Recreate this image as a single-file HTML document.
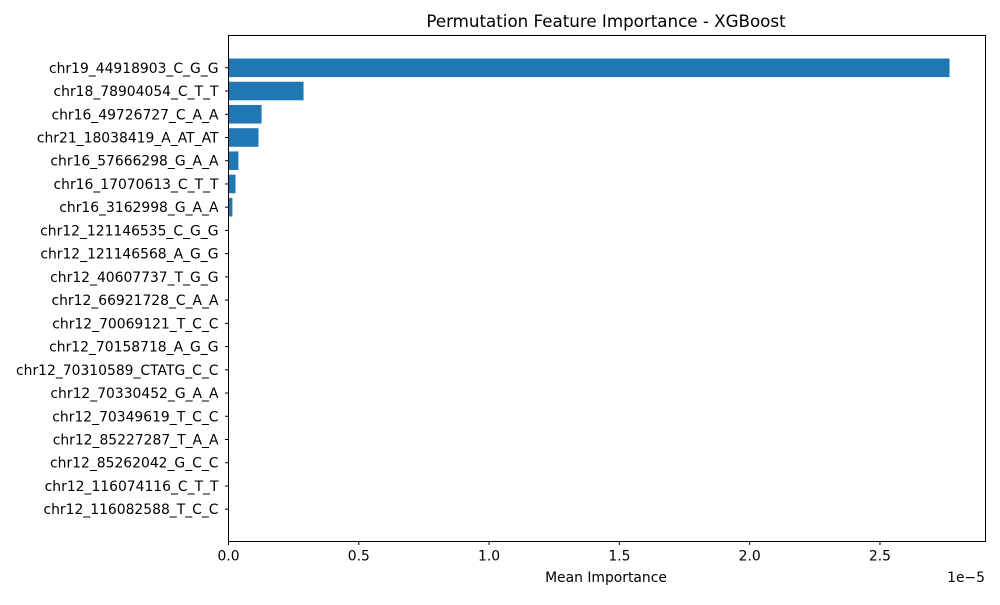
<!DOCTYPE html>
<html><head><meta charset="utf-8"><style>
body{margin:0;background:#fff;}
svg text{font-family:"DejaVu Sans","Liberation Sans",sans-serif;fill:#000;}
</style></head><body>
<svg id="chart" width="1000" height="600" xmlns="http://www.w3.org/2000/svg">
<rect width="1000" height="600" fill="#fff"/>
<text x="606" y="27" font-size="16.7" text-anchor="middle">Permutation Feature Importance - XGBoost</text>
<g id="bars"></g>
<g id="yticks"></g>
<g id="xticks"></g>
<rect x="228.5" y="35.5" width="757" height="506" fill="none" stroke="#000" stroke-width="1"/>
<text x="606" y="582" font-size="13.9" text-anchor="middle">Mean Importance</text>
<text x="985" y="582" font-size="13.9" text-anchor="end">1e−5</text>
</svg>
<script>
const features = ["chr19_44918903_C_G_G","chr18_78904054_C_T_T","chr16_49726727_C_A_A","chr21_18038419_A_AT_AT","chr16_57666298_G_A_A","chr16_17070613_C_T_T","chr16_3162998_G_A_A","chr12_121146535_C_G_G","chr12_121146568_A_G_G","chr12_40607737_T_G_G","chr12_66921728_C_A_A","chr12_70069121_T_C_C","chr12_70158718_A_G_G","chr12_70310589_CTATG_C_C","chr12_70330452_G_A_A","chr12_70349619_T_C_C","chr12_85227287_T_A_A","chr12_85262042_G_C_C","chr12_116074116_C_T_T","chr12_116082588_T_C_C"];
const importance = [2.767,0.288,0.127,0.115,0.038,0.027,0.015,0,0,0,0,0,0,0,0,0,0,0,0,0];
const xTickValues = [0,0.5,1.0,1.5,2.0,2.5];
const xTickLabels = ["0.0","0.5","1.0","1.5","2.0","2.5"];

const NS="http://www.w3.org/2000/svg";
const L=228.5,R=985.5,T=35.5,B=541.5;
const xmin=0,xmax=2.905;
const x=v=>L+(v-xmin)/(xmax-xmin)*(R-L);
const n=features.length;
const ylo=-0.99-0.4, yhi=n-1+0.4+0.99;
const y=i=>T+(i-ylo)/(yhi-ylo)*(B-T);
const bw=0.8*(B-T)/(yhi-ylo);
function mk(tag,attrs,parent){const e=document.createElementNS(NS,tag);for(const k in attrs)e.setAttribute(k,attrs[k]);parent.appendChild(e);return e;}
const gb=document.getElementById('bars'),gy=document.getElementById('yticks'),gx=document.getElementById('xticks');
features.forEach((f,i)=>{
  const cy=y(i);
  if(importance[i]>0){
    const r=mk('rect',{x:x(0),y:cy-bw/2,width:x(importance[i])-x(0),height:bw,fill:'#1f77b4'},gb);
    
    
  }
  const t=mk('line',{x1:L-3.5,x2:L,y1:cy,y2:cy,stroke:'#000'},gy);
  
  
  const tx=mk('text',{x:L-10,y:cy+5,'font-size':13.9,'text-anchor':'end'},gy);
  tx.textContent=f;
  
  
});
xTickValues.forEach((v,i)=>{
  const px=x(v);
  const t=mk('line',{x1:px,x2:px,y1:B,y2:B+3.5,stroke:'#000'},gx);
  
  
  const tx=mk('text',{x:px,y:B+19,'font-size':13.9,'text-anchor':'middle'},gx);
  tx.textContent=xTickLabels[i];
  
  
});
</script>
</body></html>
